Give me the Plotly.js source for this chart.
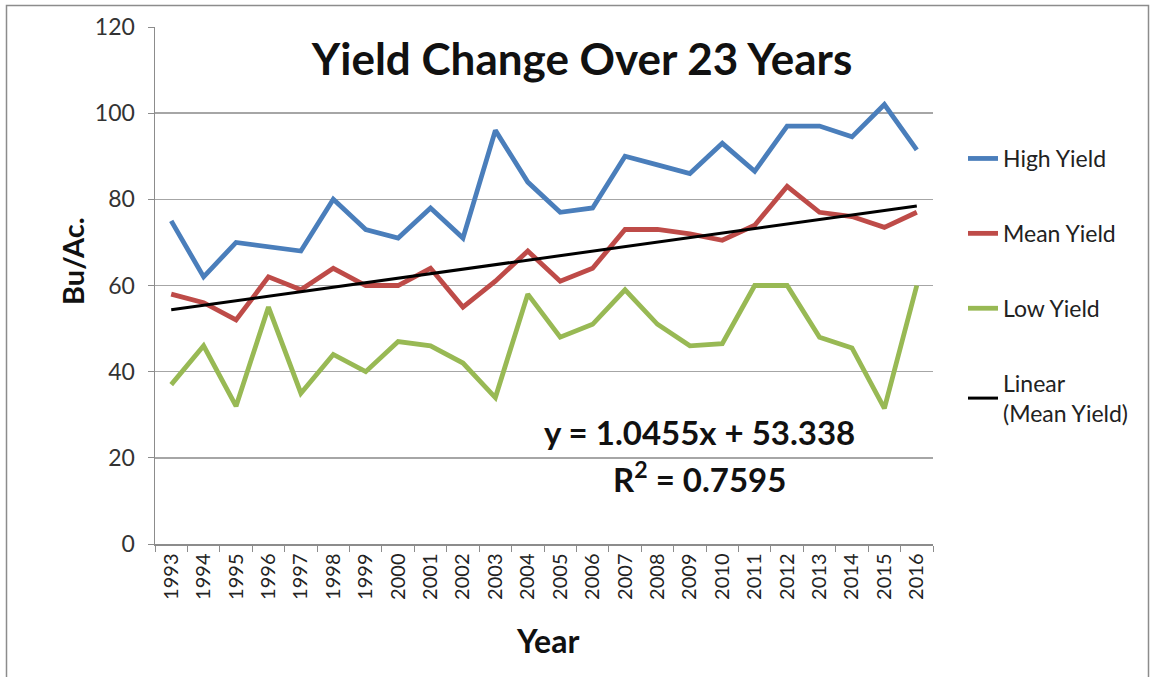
<!DOCTYPE html>
<html>
<head>
<meta charset="utf-8">
<script src="https://cdn.plot.ly/plotly-3.0.1.min.js"></script>
<style>
html,body{margin:0;padding:0;background:#fff;}
#chart{width:1153px;height:677px;}
</style>
</head>
<body>
<div id="chart"></div>
<script>
const years = ["1993","1994","1995","1996","1997","1998","1999","2000","2001","2002","2003","2004","2005","2006","2007","2008","2009","2010","2011","2012","2013","2014","2015","2016"];
const highYield = [75,62,70,69,68,80,73,71,78,71,96,84,77,78,90,88,86,93,86.5,97,97,94.5,102,91.5];
const meanYield = [58,56,52,62,59,64,60,60,64,55,61,68,61,64,73,73,72,70.5,74,83,77,76,73.5,77];
const lowYield = [37,46,32,55,35,44,40,47,46,42,34,58,48,51,59,51,46,46.5,60,60,48,45.5,31.5,60];
const trendSlope = 1.0455;
const trendIntercept = 53.338;
const trendR2 = 0.7595;

const trendX = [years[0], years[years.length-1]];
const trendY = [trendSlope*1 + trendIntercept, trendSlope*years.length + trendIntercept];

const font = "Lato, 'Open Sans', sans-serif";
const traces = [
  {x: years, y: highYield, type:'scatter', mode:'lines', name:'High Yield', line:{color:'#4a7ebb', width:4.8}, legendgroup:'a'},
  {x: years, y: meanYield, type:'scatter', mode:'lines', name:'Mean Yield', line:{color:'#be4b48', width:4.8}, legendgroup:'b'},
  {x: years, y: lowYield, type:'scatter', mode:'lines', name:'Low Yield', line:{color:'#98b954', width:4.8}, legendgroup:'c'},
  {x: trendX, y: trendY, type:'scatter', mode:'lines', name:'Linear<br>(Mean Yield)', line:{color:'#000000', width:3}, legendgroup:'d'}
];

const L = 155, R = 933, T = 27, B = 544;
const pw = R - L, ph = B - T;
const px = v => (v - L) / pw;
const py = v => (B - v) / ph;

const layout = {
  width: 1153, height: 677,
  margin: {l: L, r: 1153 - R, t: T, b: 677 - B, pad: 0, autoexpand: false},
  paper_bgcolor: '#fff', plot_bgcolor: '#fff',
  font: {family: font, color: '#404040'},
  showlegend: true,
  legend: {x: px(963), y: py(137), xanchor:'left', yanchor:'top', font:{size:23, color:'#222', family: font}, tracegroupgap: 42, traceorder:'grouped', bgcolor:'rgba(0,0,0,0)'},
  xaxis: {
    type:'category', range:[-0.5, years.length - 0.5], tickson:'boundaries', ticks:'outside', ticklen:6, tickcolor:'#8c8c8c',
    showline:true, linecolor:'#8c8c8c', linewidth:1.5, showgrid:false,
    tickangle:-90, tickfont:{size:20, color:'#222', family: font},
    fixedrange:true
  },
  yaxis: {
    range:[0,120], dtick:20, tick0:0, ticks:'outside', ticklen:6, tickcolor:'#8c8c8c',
    showline:true, linecolor:'#8c8c8c', linewidth:1.5,
    showgrid:true, gridcolor:'#a6a6a6', gridwidth:1.5, zeroline:false,
    tickfont:{size:23, color:'#333', family: font}, ticklabelstandoff: 8,
    fixedrange:true
  },
  title: {text:'<b>Yield Change Over 23 Years</b>', font:{size:44, color:'#111', family: font}, x: px(582), xanchor:'center', xref:'paper', y: 1 - 60/677, yanchor:'middle'},
  annotations: [
    {xref:'paper', yref:'paper', x: px(699), y: py(432), text:'<b>y = 1.0455x + 53.338</b>', showarrow:false, font:{size:33, color:'#111', family: font}, xanchor:'center', yanchor:'middle'},
    {xref:'paper', yref:'paper', x: px(699), y: py(477), text:'<b>R<sup>2</sup> = ' + trendR2 + '</b>', showarrow:false, font:{size:33, color:'#111', family: font}, xanchor:'center', yanchor:'middle'},
    {xref:'paper', yref:'paper', x: px(547), y: py(640), text:'<b>Year</b>', showarrow:false, font:{size:32, color:'#111', family: font}, xanchor:'center', yanchor:'middle'},
    {xref:'paper', yref:'paper', x: px(72), y: py(261), text:'<b>Bu/Ac.</b>', textangle:-90, showarrow:false, font:{size:29, color:'#111', family: font}, xanchor:'center', yanchor:'middle'}
  ],
  shapes: [
    {type:'rect', xref:'paper', yref:'paper', x0: px(6.5), x1: px(1148.5), y0: py(690), y1: py(5.5), line:{color:'#8c8c8c', width:1.5}, fillcolor:'rgba(0,0,0,0)', layer:'below'}
  ]
};

Plotly.newPlot('chart', traces, layout, {displayModeBar:false, staticPlot:true});
</script>
</body>
</html>
